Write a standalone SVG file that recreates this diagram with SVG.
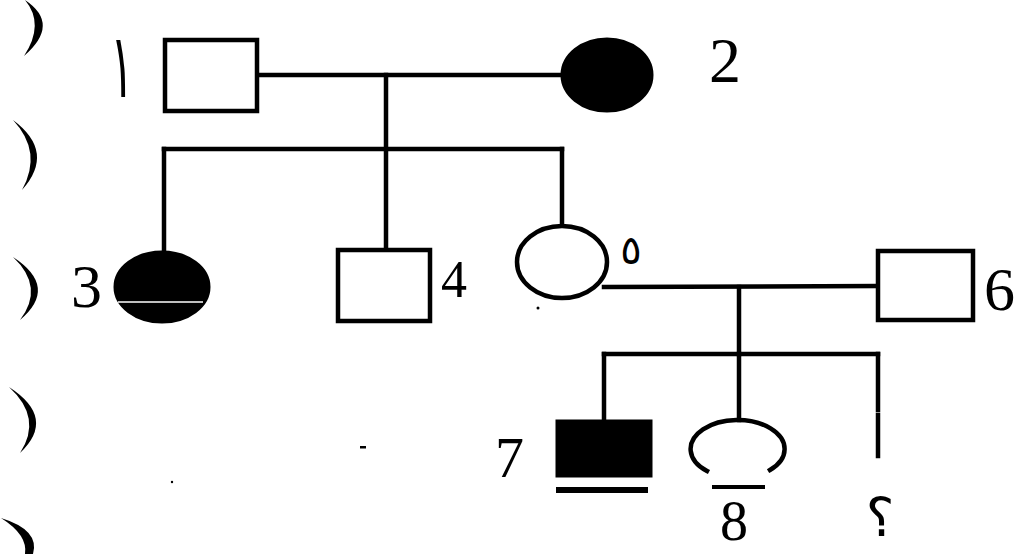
<svg xmlns="http://www.w3.org/2000/svg" width="1022" height="554" viewBox="0 0 1022 554">
<style>
.ln{stroke:#000;stroke-width:4.5;fill:none;stroke-linecap:square}
.op{fill:#fff;stroke:#000;stroke-width:4.5}
.af{fill:#000;stroke:#000;stroke-width:3}
.lb{font-family:"Liberation Serif","DejaVu Sans",serif;fill:#000}
.ar{font-family:"DejaVu Sans","Noto Sans",sans-serif;fill:#000}
.mk{fill:#000}
</style>
<rect width="1022" height="554" fill="#fff"/>
<g id="scan-marks">
<path class="mk" d="M25 0 Q61 24 24 56 Q45 24 25 0 Z"/>
<path class="mk" d="M13 120 Q56 152 22 190 Q43 152 13 120 Z"/>
<path class="mk" d="M13 257 Q59 287 20 320 Q45 287 13 257 Z"/>
<path class="mk" d="M9 387 Q57 418 20 453 Q43 418 9 387 Z"/>
<path class="mk" d="M1 518 Q40 530 33 554 L25 554 Q28 535 1 518 Z"/>
<circle class="mk" cx="538" cy="308" r="1.5"/>
<circle class="mk" cx="172" cy="482" r="1.2"/>
<rect class="mk" x="360" y="446" width="6" height="2.5"/>
</g>
<g id="connectors">
<line class="ln" x1="258" y1="75" x2="562" y2="75"/>
<line class="ln" x1="386" y1="75" x2="386" y2="249"/>
<line class="ln" x1="164" y1="149" x2="562" y2="149"/>
<line class="ln" x1="164" y1="149" x2="164" y2="251"/>
<line class="ln" x1="562" y1="149" x2="562" y2="226"/>
<line class="ln" x1="604" y1="287" x2="877" y2="286"/>
<line class="ln" x1="739" y1="287" x2="739" y2="354"/>
<line class="ln" x1="604" y1="354" x2="878" y2="354"/>
<line class="ln" x1="604" y1="354" x2="604" y2="420"/>
<line class="ln" x1="739" y1="354" x2="739" y2="420"/>
<line class="ln" x1="878" y1="354" x2="878" y2="410"/>
<line class="ln" x1="878" y1="415" x2="878" y2="456"/>
</g>
<g id="node1">
<rect class="op" x="165" y="40" width="92" height="71"/>
<text class="ar" transform="translate(122,97) scale(0.7,1.45)" x="0" y="0" font-size="62" text-anchor="middle">١</text>
</g>
<g id="node2">
<ellipse class="af" cx="607" cy="75" rx="45" ry="36"/>
<text class="lb" x="709" y="82" font-size="64">2</text>
</g>
<g id="node3">
<ellipse class="af" cx="162" cy="287" rx="47" ry="35"/>
<line x1="118" y1="302" x2="203" y2="302" stroke="#fff" stroke-width="1.5"/>
<text class="lb" x="71" y="307" font-size="62">3</text>
</g>
<g id="node4">
<rect class="op" x="338" y="250" width="92" height="71"/>
<text class="lb" x="441" y="297" font-size="52">4</text>
</g>
<g id="node5">
<ellipse class="op" cx="562" cy="262" rx="45" ry="36"/>
<text class="ar" x="631" y="264" font-size="40" text-anchor="middle">٥</text>
</g>
<g id="node6">
<rect class="op" x="878" y="251" width="95" height="69"/>
<text class="lb" x="984" y="310" font-size="62">6</text>
</g>
<g id="node7">
<rect class="af" x="557" y="421" width="94" height="55"/>
<line x1="556" y1="490" x2="648" y2="490" stroke="#000" stroke-width="6"/>
<text class="lb" x="495" y="477" font-size="58">7</text>
</g>
<g id="node8">
<path class="ln" d="M707 471 A47 29 0 1 1 770 470"/>
<line x1="712" y1="487" x2="765" y2="487" stroke="#000" stroke-width="4"/>
<text class="lb" x="720" y="540" font-size="56">8</text>
</g>
<g id="node9">
<text class="ar" x="880" y="536" font-size="54" text-anchor="middle">؟</text>
</g>
</svg>
